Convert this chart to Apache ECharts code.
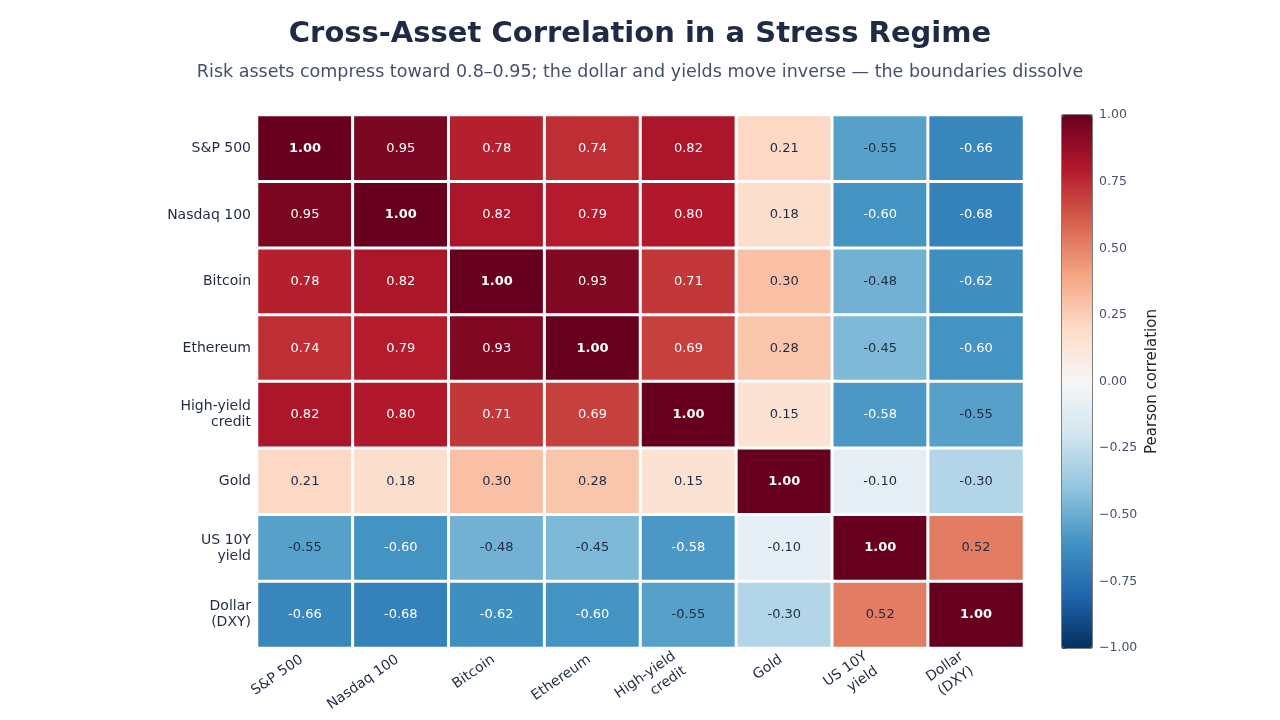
<!DOCTYPE html>
<html>
<head>
<meta charset="utf-8">
<title>Cross-Asset Correlation</title>
<script src="https://cdn.jsdelivr.net/npm/echarts@6/dist/echarts.min.js"></script>
<style>
  html, body { margin: 0; padding: 0; background: #fff; }
  #chart { width: 1280px; height: 720px; }
</style>
</head>
<body>
<div id="chart"></div>
<script>
  // asset names (x and y axis)
  const assets = ['S&P 500', 'Nasdaq 100', 'Bitcoin', 'Ethereum', 'High-yield\ncredit', 'Gold', 'US 10Y\nyield', 'Dollar\n(DXY)'];

  // correlation matrix, one row per asset
  const corr = [
    [1.00, 0.95, 0.78, 0.74, 0.82, 0.21, -0.55, -0.66],
    [0.95, 1.00, 0.82, 0.79, 0.80, 0.18, -0.60, -0.68],
    [0.78, 0.82, 1.00, 0.93, 0.71, 0.30, -0.48, -0.62],
    [0.74, 0.79, 0.93, 1.00, 0.69, 0.28, -0.45, -0.60],
    [0.82, 0.80, 0.71, 0.69, 1.00, 0.15, -0.58, -0.55],
    [0.21, 0.18, 0.30, 0.28, 0.15, 1.00, -0.10, -0.30],
    [-0.55, -0.60, -0.48, -0.45, -0.58, -0.10, 1.00, 0.52],
    [-0.66, -0.68, -0.62, -0.60, -0.55, -0.30, 0.52, 1.00]
  ];

  // RdBu_r colour stops
  const rdbu = ['#053061', '#2166ac', '#4393c3', '#92c5de', '#d1e5f0', '#f7f7f7', '#fddbc7', '#f4a582', '#d6604d', '#b2182b', '#67001f'];

  const font = 'DejaVu Sans';
  const ink = '#1f2a44';

  let cells = [];
  corr.forEach(function (row, i) {
    row.forEach(function (v, j) {
      cells.push({
        value: [j, i, v],
        label: {
          color: Math.abs(v) > 0.56 ? '#ffffff' : ink,
          fontWeight: i === j ? 'bold' : 'normal'
        }
      });
    });
  });

  // rotated x labels: two-line names need a bigger shift so they hang below the tick
  let xCats = assets.map(function (name) {
    let twoLines = name.indexOf('\n') >= 0;
    return { value: name, textStyle: { padding: [0, twoLines ? 11 : 4, 0, 0] } };
  });
  // y labels: two-line names sit a little lower
  let yCats = assets.map(function (name) {
    let twoLines = name.indexOf('\n') >= 0;
    return { value: name, textStyle: { padding: [twoLines ? 7 : 0, 0, 0, 0] } };
  });

  let chart = echarts.init(document.getElementById('chart'));
  chart.setOption({
    backgroundColor: '#fff',
    animation: false,
    textStyle: { fontFamily: font },
    title: {
      text: 'Cross-Asset Correlation in a Stress Regime',
      subtext: 'Risk assets compress toward 0.8–0.95; the dollar and yields move inverse — the boundaries dissolve',
      left: 'center',
      top: 15,
      itemGap: 14,
      textStyle: { fontFamily: font, fontSize: 29, fontWeight: 'bold', color: ink },
      subtextStyle: { fontFamily: font, fontSize: 17.5, color: '#44506a' }
    },
    grid: [
      { left: 257, right: 256, top: 115, bottom: 72 },
      // colorbar frame
      { left: 1062, width: 30, top: 115, height: 533, show: true, borderColor: '#000', borderWidth: 1, backgroundColor: 'transparent' }
    ],
    xAxis: [{
      type: 'category',
      gridIndex: 0,
      data: xCats,
      axisLine: { show: false },
      axisTick: { show: false },
      splitLine: { show: false },
      axisLabel: { rotate: 35, fontSize: 14, lineHeight: 18, color: ink, margin: 8, interval: 0, fontFamily: font }
    }, {
      type: 'value',
      gridIndex: 1,
      show: false,
      min: 0,
      max: 1
    }],
    yAxis: [{
      type: 'category',
      gridIndex: 0,
      data: yCats,
      inverse: true,
      axisLine: { show: false },
      axisTick: { show: false },
      splitLine: { show: false },
      axisLabel: { fontSize: 14, lineHeight: 16, color: ink, margin: 6, interval: 0, fontFamily: font }
    }, {
      type: 'value',
      gridIndex: 1,
      position: 'right',
      min: -1,
      max: 1,
      interval: 0.25,
      axisLine: { show: false },
      axisTick: { show: true, length: 4, lineStyle: { color: '#44506a' } },
      splitLine: { show: false },
      axisLabel: {
        fontSize: 12.5, color: '#44506a', margin: 7, fontFamily: font,
        formatter: function (v) { return (v < 0 ? '\u2212' : '') + Math.abs(v).toFixed(2); }
      },
      name: 'Pearson correlation',
      nameLocation: 'middle',
      nameRotate: 90,
      nameGap: 53,
      nameTextStyle: { fontSize: 15, color: '#222', fontFamily: font }
    }],
    visualMap: {
      type: 'continuous',
      min: -1,
      max: 1,
      seriesIndex: 0,
      calculable: false,
      left: 1062,
      top: 115,
      itemWidth: 30,
      itemHeight: 533,
      text: null,
      showLabel: false,
      padding: 0,
      inRange: { color: rdbu }
    },
    series: [{
      type: 'heatmap',
      xAxisIndex: 0,
      yAxisIndex: 0,
      data: cells,
      itemStyle: { borderColor: '#fff', borderWidth: 3 },
      label: {
        show: true,
        fontSize: 13,
        fontFamily: font,
        formatter: function (p) { return p.value[2].toFixed(2); }
      },
      emphasis: { disabled: true }
    }, {
      type: 'line',
      xAxisIndex: 1,
      yAxisIndex: 1,
      data: [],
      silent: true
    }]
  });
</script>
</body>
</html>
